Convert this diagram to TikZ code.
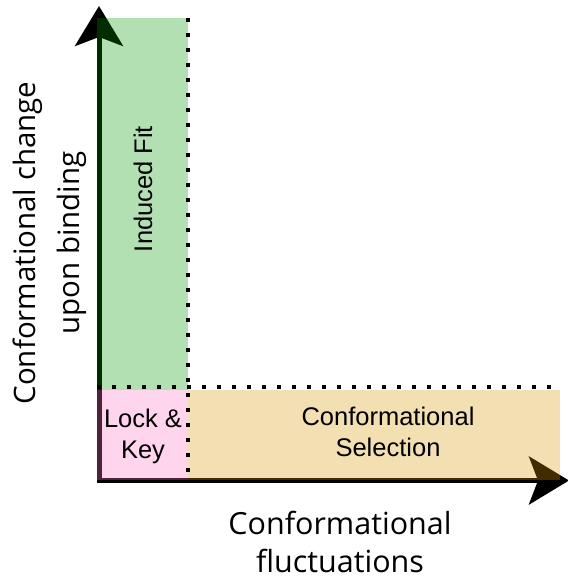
\documentclass[tikz,border=0pt]{standalone}
\usepackage{fontspec}
\setmainfont{Liberation Sans}
\newfontfamily\axisfont{Open Sans}
\usetikzlibrary{arrows.meta}
\definecolor{fitgreen}{RGB}{0,152,0}
\definecolor{lockpink}{RGB}{255,115,198}
\definecolor{seltan}{RGB}{212,148,0}
\begin{document}
\begin{tikzpicture}[x=1pt,y=-1pt,
  axis/.style={line width=5pt, -{Stealth[length=40pt,width=48pt,inset=9pt]}},
  region/.style={fill opacity=0.3},
  divider/.style={line width=4pt, dash pattern=on 4pt off 11pt},
  inlabel/.style={font=\fontsize{25.5}{31}\selectfont, align=center, text=black},
  axislabel/.style={align=center, inner sep=0pt}]
\useasboundingbox (0,0) rectangle (567,580);
% axes
\coordinate (O) at (99,480.5);
\coordinate (xstart) at (96.5,480.5);
\coordinate (ytip) at (99,6);
\coordinate (xtip) at (569,480.5);
\draw[axis] (O) -- (ytip);
\draw[axis] (xstart) -- (xtip);
% regions
\fill[region, fitgreen] (97,18) rectangle (188,390);
\fill[region, lockpink] (97,390) rectangle (188,480);
\fill[region, seltan] (188,390) rectangle (560,480);
% dividers
\coordinate (vtop) at (188,18);
\coordinate (vbot) at (188,482);
\coordinate (hleft) at (97,387);
\coordinate (hright) at (560,387);
\draw[divider] (vtop) -- (vbot);
\draw[divider] (hleft) -- (hright);
% labels
\node[inlabel, rotate=90] (fit) at (143,189) {Induced Fit};
\node[inlabel] (lock) at (143,436) {Lock \&\\Key};
\node[inlabel] (sel) at (388,432) {Conformational\\Selection};
\node[axislabel, rotate=90, font=\axisfont\fontsize{29.5}{44}\selectfont] (ylab) at (50,243) {Conformational change\\upon binding};
\node[axislabel, font=\axisfont\fontsize{30.5}{38}\selectfont] (xlab) at (340,542) {Conformational\\fluctuations};
\end{tikzpicture}
\end{document}
